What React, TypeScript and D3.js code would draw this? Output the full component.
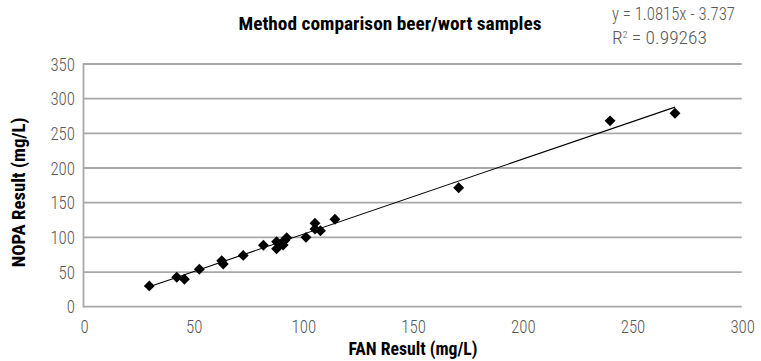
import React from "react";
import * as d3 from "d3";

const fanValues = [30, 42.5, 46, 52.8, 63, 63.7, 72.8, 82, 88, 88, 90.3, 91, 91.8, 92.6, 101.4, 105.5, 105.5, 108, 114.6, 171, 240, 269.6];
const nopaValues = [30, 42.4, 39.5, 53.9, 66.3, 61.6, 74, 88.5, 93.8, 83.5, 91.4, 89, 96, 99.5, 100, 120.5, 112, 109.5, 126, 171.6, 268, 279];
const xTicks = [0, 50, 100, 150, 200, 250, 300];
const yTicks = [0, 50, 100, 150, 200, 250, 300, 350];
const slope = 1.0815;
const intercept = -3.737;
const titleText = "Method comparison beer/wort samples";
const equationText = "y = 1.0815x - 3.737";
const r2Value = "0.99263";
const xTitle = "FAN Result (mg/L)";
const yTitle = "NOPA Result (mg/L)";

const FONT = "'Liberation Sans Narrow', 'Roboto Condensed', 'DejaVu Sans Condensed', Roboto, sans-serif";

export default function App() {
  const x = d3.scaleLinear().domain([0, 300]).range([83.5, 741.7]);
  const y = d3.scaleLinear().domain([0, 350]).range([306.7, 64]);
  const grid = "#a9a9a9";
  const tickColor = "#595959";
  const xMin = d3.min(fanValues) as number;
  const xMax = d3.max(fanValues) as number;
  const line = d3.line<number>().x((v) => x(v)).y((v) => y(slope * v + intercept));
  const diamond = d3.symbol().type(d3.symbolDiamond2).size(76)();

  return (
    <svg width={761} height={361} style={{ position: "absolute", left: 0, top: 0, background: "#fff" }} fontFamily={FONT}>
      {yTicks.map((t) => (
        <line key={"g" + t} x1={x(0)} x2={x(300)} y1={y(t)} y2={y(t)} stroke={grid} strokeWidth={1.8} />
      ))}
      <line x1={x(0)} x2={x(0)} y1={y(350) - 0.9} y2={y(0) + 0.9} stroke={grid} strokeWidth={1.8} />
      {yTicks.map((t) => (
        <text key={"yl" + t} x={75} y={y(t) + 6.5} textAnchor="end" fontSize={18} fontWeight={300} fill={tickColor}
          textLength={String(t).length * 8.2} lengthAdjust="spacingAndGlyphs">{t}</text>
      ))}
      {xTicks.map((t) => (
        <text key={"xl" + t} x={x(t) + 1} y={332.5} textAnchor="middle" fontSize={18} fontWeight={300} fill={tickColor}
          textLength={String(t).length * 8.2} lengthAdjust="spacingAndGlyphs">{t}</text>
      ))}
      <path d={line([xMin, xMax]) || ""} stroke="#000" strokeWidth={1.1} fill="none" />
      {fanValues.map((v, i) => (
        <path key={"p" + i} d={diamond || ""} transform={`translate(${x(v)},${y(nopaValues[i])})`} fill="#000" />
      ))}
      <text x={390} y={30} textAnchor="middle" fontSize={18} fontWeight={700} fill="#000"
        textLength={303} lengthAdjust="spacingAndGlyphs">{titleText}</text>
      <text x={612} y={20} fontSize={18} fontWeight={300} fill={tickColor}
        textLength={123} lengthAdjust="spacingAndGlyphs">{equationText}</text>
      <text x={612} y={43.5} fontSize={18} fontWeight={300} fill={tickColor} textLength={95} lengthAdjust="spacingAndGlyphs">
        R<tspan fontSize={9} dy={-6}>2</tspan><tspan dy={6}> = {r2Value}</tspan>
      </text>
      <text x={413} y={354.5} textAnchor="middle" fontSize={18} fontWeight={700} fill="#000"
        textLength={129} lengthAdjust="spacingAndGlyphs">{xTitle}</text>
      <text transform={`translate(24.5,${(y(0) + y(350)) / 2 + 7}) rotate(-90)`} textAnchor="middle" fontSize={18} fontWeight={700} fill="#000"
        textLength={150} lengthAdjust="spacingAndGlyphs">{yTitle}</text>
    </svg>
  );
}
